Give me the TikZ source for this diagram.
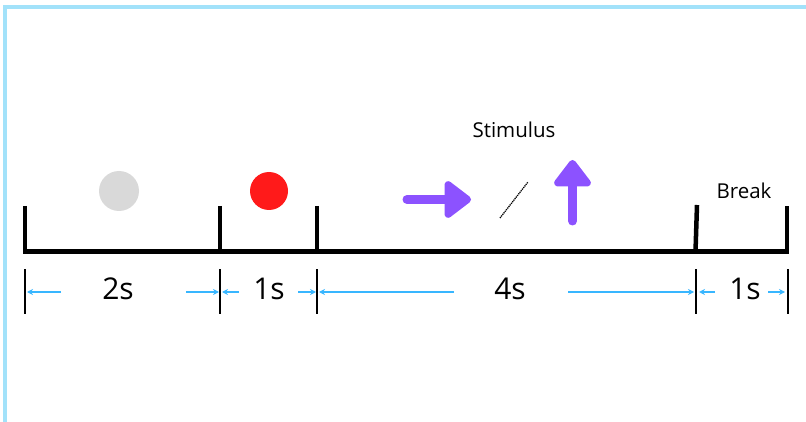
\documentclass[tikz,border=0pt]{standalone}
\usepackage{fontspec}
\setmainfont{Open Sans}
\usetikzlibrary{arrows.meta}
\definecolor{frameblue}{RGB}{162,226,250}
\definecolor{fixgrey}{RGB}{217,217,217}
\definecolor{cuered}{RGB}{255,26,26}
\definecolor{stimpurple}{RGB}{140,82,255}
\definecolor{dimblue}{RGB}{56,182,255}
\tikzset{
  axis/.style={line width=4.5pt, line join=miter},
  seg/.style={line width=1.8pt},
  dim/.style={-{Stealth[length=6pt, width=6pt]}, line width=1.3pt, color=dimblue},
  dur/.style={anchor=base, inner sep=0pt, font=\fontsize{30}{34}\selectfont},
  lbl/.style={anchor=base, inner sep=0pt, font=\fontsize{20.5}{24}\selectfont},
  dot/.style={circle, inner sep=0pt, minimum size=40pt},
  stim/.style={line width=9pt, line cap=round, color=stimpurple,
               -{Triangle[length=29pt, width=42pt, round]}},
}

\begin{document}
\begin{tikzpicture}[x=1pt, y=-1pt]
\useasboundingbox (0,0) rectangle (806,422);
% frame on two sides
\draw[frameblue, line width=4.5pt] (5,422) -- (5,7) -- (806,7);

% timeline with its phase boundaries
\draw[axis] (25,206) -- (25,251.5) -- (787,251.5) -- (787,206);
\draw[axis] (220,206) -- (220,251.5);
\draw[axis] (317,206) -- (317,251.5);
\draw[axis] (697,205) -- (695.5,251.5);

% what is shown in each phase
\node[dot, fill=fixgrey] (fix) at (119,191) {};
\node[dot, fill=cuered, minimum size=38pt] (cue) at (269,191) {};
\node[lbl] (stimlbl) at (514,138) {Stimulus};
\node[lbl] (breaklbl) at (744,199) {Break};

\coordinate (hs) at (407,199.5);
\coordinate (he) at (471,199.5);
\coordinate (vs) at (572.5,221);
\coordinate (ve) at (572.5,160);
\draw[stim] (hs) -- (he);
\draw[stim] (vs) -- (ve);
\coordinate (or1) at (500,218);
\coordinate (or2) at (528,182);
\draw[dash pattern=on 1.2pt off 0.8pt, line width=1.3pt] (or1) -- (or2);

% durations
\coordinate (t0) at (25,292);
\coordinate (t1) at (220,292);
\coordinate (t2) at (317,292);
\coordinate (t3) at (696,292);
\coordinate (t4) at (788,292);
\foreach \x in {25,220,317,696,788}
  \draw[seg] (\x,269) -- (\x,314);

\node[dur] (d2s) at (118,299) {2s};
\node[dur] (d1s) at (269,299) {1s};
\node[dur] (d4s) at (510,299) {4s};
\node[dur] (dbr) at (745,299) {1s};

\coordinate (a0) at (61,292);
\coordinate (a1) at (186,292);
\coordinate (a2) at (239,292);
\coordinate (a3) at (298,292);
\coordinate (a4) at (454,292);
\coordinate (a5) at (568,292);
\coordinate (a6) at (715,292);
\coordinate (a7) at (768,292);
\draw[dim] (a0) -- ([xshift=2pt]t0);
\draw[dim] (a1) -- ([xshift=-1pt]t1);
\draw[dim] (a2) -- ([xshift=2pt]t1);
\draw[dim] (a3) -- ([xshift=-1pt]t2);
\draw[dim] (a4) -- ([xshift=2pt]t2);
\draw[dim] (a5) -- ([xshift=-2pt]t3);
\draw[dim] (a6) -- ([xshift=3pt]t3);
\draw[dim] (a7) -- ([xshift=-3pt]t4);
\end{tikzpicture}
\end{document}
